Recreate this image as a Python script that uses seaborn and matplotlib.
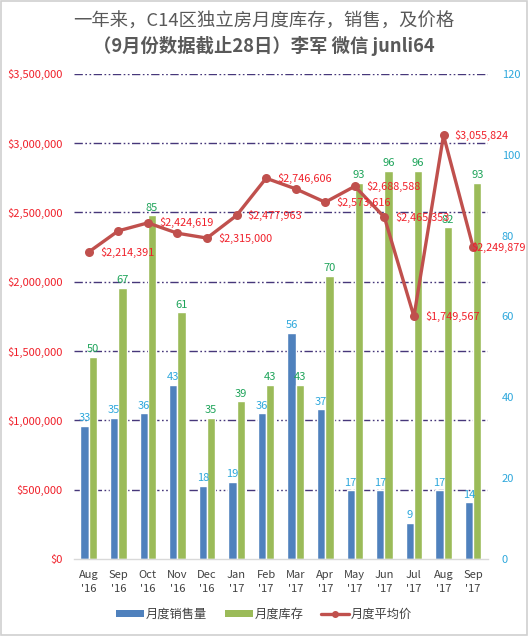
import numpy as np
import pandas as pd
import matplotlib
matplotlib.use("Agg")
import matplotlib.pyplot as plt
import seaborn as sns
from matplotlib.patches import Patch, Rectangle
from matplotlib.lines import Line2D
from matplotlib.ticker import FuncFormatter

# ---------------- data ----------------
months = ["Aug\n'16", "Sep\n'16", "Oct\n'16", "Nov\n'16", "Dec\n'16", "Jan\n'17", "Feb\n'17",
          "Mar\n'17", "Apr\n'17", "May\n'17", "Jun\n'17", "Jul\n'17", "Aug\n'17", "Sep\n'17"]
sales = [33, 35, 36, 43, 18, 19, 36, 56, 37, 17, 17, 9, 17, 14]
inventory = [50, 67, 85, 61, 35, 39, 43, 43, 70, 93, 96, 96, 82, 93]
avg_price = [2214391, 2367000, 2424619, 2350000, 2315000, 2477963, 2746606,
             2670000, 2573616, 2688588, 2465353, 1749567, 3055824, 2249879]
price_labeled = [True, False, True, False, True, True, True,
                 False, True, True, True, True, True, True]
price_ticks = [0, 500000, 1000000, 1500000, 2000000, 2500000, 3000000, 3500000]
count_ticks = [0, 20, 40, 60, 80, 100, 120]
series_names = ["月度销售量", "月度库存", "月度平均价"]
title1 = "一年来，C14区独立房月度库存，销售，及价格"
title2 = "（9月份数据截止28日）李军 微信 junli64"

# ---------------- style ----------------
sns.set_theme(style="white")
plt.rcParams["font.family"] = ["Noto Sans CJK SC", "DejaVu Sans"]

BLUE = "#4F81BD"
GREEN = "#9BBB59"
RED = "#C0504D"
LBL_BLUE = "#2EA8DC"
LBL_GREEN = "#1EA45A"
LBL_RED = "#F0202A"
GRID = "#46377A"

fig = plt.figure(figsize=(5.28, 6.36), dpi=100)
fig.patch.set_facecolor("white")
fig.add_artist(Rectangle((0.001, 0.001), 0.997, 0.997, transform=fig.transFigure,
                         fill=False, edgecolor="#D0D0D0", linewidth=1.2))

ax = fig.add_axes([0.140, 0.121, 0.784, 0.763])
ax2 = ax.twinx()

df = pd.DataFrame({
    "month": months * 2,
    "value": sales + inventory,
    "series": [series_names[0]] * len(months) + [series_names[1]] * len(months),
})

sns.barplot(data=df, x="month", y="value", hue="series", ax=ax,
            palette=[BLUE, GREEN], width=0.56, gap=0, legend=False,
            saturation=1, zorder=2)

ax.set_ylim(count_ticks[0], count_ticks[-1])
ax.set_xlim(-0.5, len(months) - 0.5)

# gridlines at price ticks (mapped to count axis)
scale = count_ticks[-1] / price_ticks[-1]
for v in price_ticks[1:]:
    ax.axhline(v * scale, color=GRID, linewidth=1.0,
               linestyle=(0, (6, 1.8, 1.2, 1.8, 1.2, 1.8)), zorder=0.5)

# bar labels
ax.bar_label(ax.containers[0], labels=[str(v) for v in sales], padding=2,
             color=LBL_BLUE, fontsize=8)
ax.bar_label(ax.containers[1], labels=[str(v) for v in inventory], padding=2,
             color=LBL_GREEN, fontsize=8)

# price line on twin axis
xpos = np.arange(len(months))
sns.lineplot(x=xpos, y=avg_price, ax=ax2, color=RED, linewidth=2.4,
             marker="o", markersize=6.5, markeredgewidth=0, sort=False)
ax2.set_ylim(price_ticks[0], price_ticks[-1])
for i, (p, show) in enumerate(zip(avg_price, price_labeled)):
    if show:
        dx = 8 if i < len(months) - 1 else -1
        ax2.annotate(f"${p:,.0f}", (i, p), xytext=(dx, 0), textcoords="offset points",
                     ha="left", va="center", color=LBL_RED, fontsize=7.8)

# axes layout: counts on right, prices on left
ax.yaxis.tick_right()
ax.yaxis.set_label_position("right")
ax2.yaxis.tick_left()
ax2.yaxis.set_label_position("left")
ax.set_yticks(count_ticks)
ax.set_yticklabels([str(t) for t in count_ticks], color=LBL_BLUE, fontsize=8)
ax2.set_yticks(price_ticks)
ax2.yaxis.set_major_formatter(FuncFormatter(lambda v, _: f"${v:,.0f}"))
for t in ax2.get_yticklabels():
    t.set_color(LBL_RED)
    t.set_fontsize(8)
ax.tick_params(axis="y", length=0, pad=10)
ax2.tick_params(axis="y", length=0, pad=8)
ax.tick_params(axis="x", length=0, pad=8, labelsize=8, labelcolor="#404040")
for lbl in ax.get_xticklabels():
    lbl.set_linespacing(1.45)
ax.set_xlabel("")
ax.set_ylabel("")
ax2.set_ylabel("")

for a in (ax, ax2):
    for s in ("left", "right", "top"):
        a.spines[s].set_visible(False)
ax2.spines["bottom"].set_visible(False)
ax.spines["bottom"].set_color("#D9D9D9")
ax.spines["bottom"].set_linewidth(1.0)

# titles
fig.text(0.5, 0.966, title1, ha="center", va="center", fontsize=13.2, color="#595959")
fig.text(0.5, 0.928, title2, ha="center", va="center", fontsize=13.2, color="#595959",
         fontweight="bold")

# legend
handles = [Patch(facecolor=BLUE, edgecolor="none"),
           Patch(facecolor=GREEN, edgecolor="none"),
           Line2D([0], [0], color=RED, linewidth=2.4, marker="o", markersize=4)]
fig.legend(handles, series_names, loc="center", bbox_to_anchor=(0.5, 0.034), ncol=3,
           frameon=False, fontsize=8.8, handlelength=2.3, handleheight=0.6,
           columnspacing=1.4, handletextpad=0.15, labelcolor="#404040")

fig.savefig("out.png", dpi=100, facecolor="white")
